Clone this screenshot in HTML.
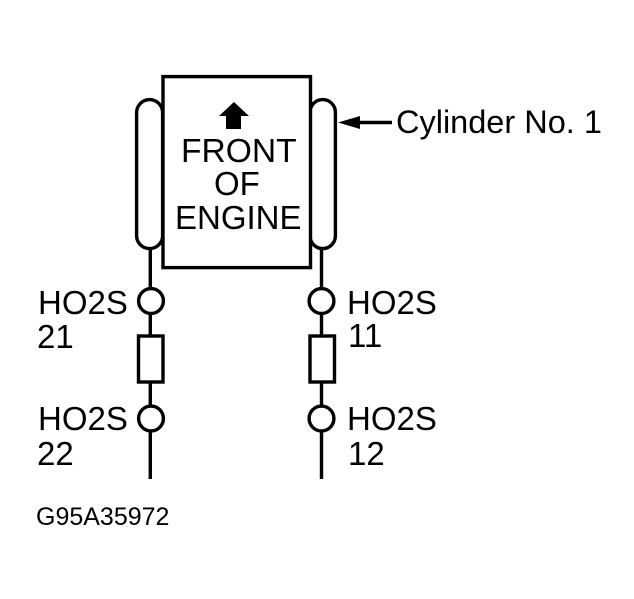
<!DOCTYPE html>
<html>
<head>
<meta charset="utf-8">
<style>
html,body{margin:0;padding:0;background:#fff;}
svg{display:block;}
text{font-family:"Liberation Sans",sans-serif;fill:#000;}
</style>
</head>
<body>
<svg width="634" height="599" viewBox="0 0 634 599" xmlns="http://www.w3.org/2000/svg">
<g fill="none" stroke="#000" stroke-width="3.4">
<rect x="136.6" y="99.6" width="26" height="149" rx="13" ry="13"/>
<rect x="310" y="99.6" width="25.4" height="149" rx="12.7" ry="12.7"/>
<rect x="163" y="76.6" width="147.5" height="191" fill="#fff"/>
<path d="M150.3 250V288M150.3 315V335M150.3 382V405M150.3 432V479"/>
<path d="M321.5 250V288M321.5 315V335M321.5 382V405M321.5 432V479"/>
<circle cx="151" cy="301" r="12.4"/>
<circle cx="151" cy="418.5" r="12.4"/>
<circle cx="321.5" cy="301" r="12.4"/>
<circle cx="321.5" cy="418.5" r="12.4"/>
<rect x="138.5" y="336" width="24.5" height="46"/>
<rect x="310" y="336" width="24.5" height="46"/>
<path d="M345 122.5H392"/>
</g>
<path d="M338 122.5L360 116V129Z" fill="#000"/>
<path d="M219 116L234 102L249 116H241V129H226V116Z" fill="#000"/>
<g font-size="33">
<text x="181" y="162" font-size="33.6">FRONT</text>
<text x="214" y="195">OF</text>
<text x="175" y="229">ENGINE</text>
<text x="38" y="314">HO2S</text>
<text x="37" y="348">21</text>
<text x="38" y="430">HO2S</text>
<text x="37" y="465">22</text>
<text x="347" y="314">HO2S</text>
<text x="348" y="347">11</text>
<text x="347" y="430">HO2S</text>
<text x="348" y="465">12</text>
<text x="396" y="133" font-size="32.5">Cylinder No. 1</text>
</g>
<text x="36" y="525" font-size="25">G95A35972</text>
</svg>
</body>
</html>
